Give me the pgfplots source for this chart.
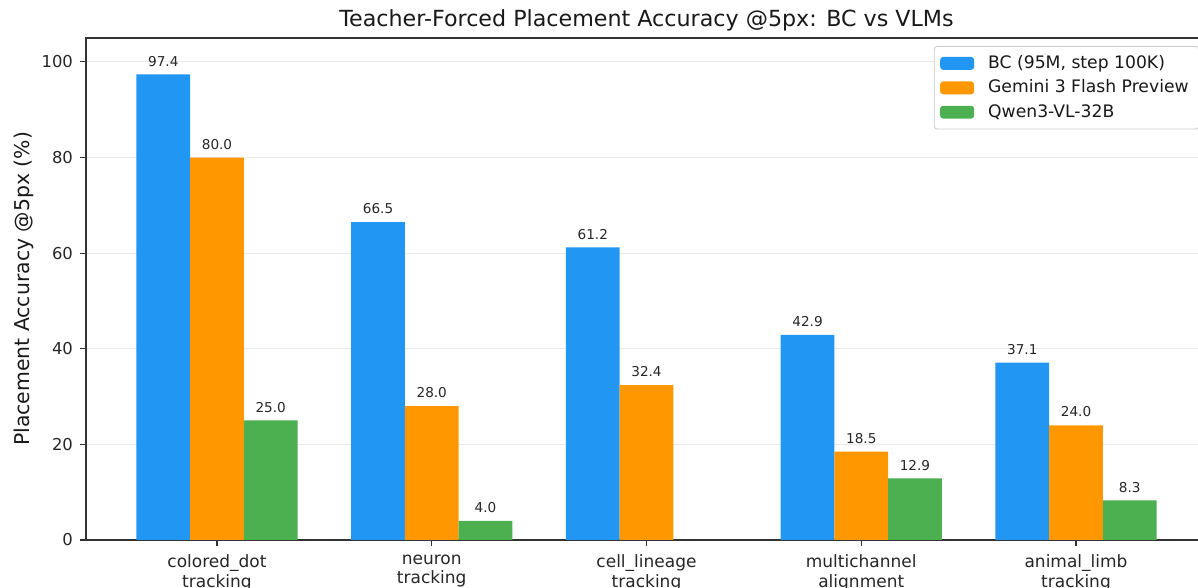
\documentclass[border=0pt]{standalone}
\usepackage{pgfplots}
\pgfplotsset{compat=1.18}
\usepackage{fontspec}
\setmainfont{DejaVu Sans}
\definecolor{cBC}{HTML}{2196F3}
\definecolor{cGem}{HTML}{FF9800}
\definecolor{cQwen}{HTML}{4CAF50}
\definecolor{spine}{HTML}{333333}
\begin{document}
\begin{tikzpicture}
\useasboundingbox (-43pt,-24pt) rectangle (556pt,270pt);
\clip (-43pt,-24pt) rectangle (556pt,270pt);
\begin{axis}[
  at={(0pt,0pt)}, anchor=south west,
  scale only axis, width=560.5pt, height=251pt,
  xmin=-0.61, xmax=4.61, ymin=0, ymax=105,
  ybar=0pt, bar width=0.25,
  axis line style={spine, line width=0.7pt},
  tick style={spine, line width=0.6pt},
  tick align=outside, major tick length=3pt,
  xtick pos=bottom, ytick pos=left,
  xtick={0,1,2,3,4},
  xticklabels={{colored\_dot\\tracking},{neuron\\tracking},{cell\_lineage\\tracking},{multichannel\\alignment},{animal\_limb\\tracking}},
  xticklabel style={align=center, font=\fontsize{8.5pt}{9.6pt}\selectfont, text=black!85, yshift=-1pt},
  ytick={0,20,40,60,80,100},
  yticklabel style={font=\fontsize{8.2pt}{10pt}\selectfont, text=black!85},
  /pgf/number format/assume math mode=true,
  ymajorgrids, xmajorgrids=false,
  grid style={black!8, line width=0.5pt},
  ylabel={Placement Accuracy @5px (\%)},
  ylabel style={at={(axis description cs:-0.0555,0.5)}, anchor=center, font=\fontsize{10.2pt}{12pt}\selectfont, text=black!90},
  title={Teacher-Forced Placement Accuracy @5px: BC vs VLMs},
  every axis title/.style={at={(axis description cs:0.5,1)}, anchor=base, yshift=5.5pt, font=\fontsize{11.1pt}{13pt}\selectfont, text=black!90},
  nodes near coords,
  nodes near coords style={font=\fontsize{6.8pt}{8pt}\selectfont, text=black!85, yshift=0.5pt, /pgf/number format/fixed, /pgf/number format/fixed zerofill, /pgf/number format/precision=1},
  legend style={at={(axis description cs:0.9929,0.9841)}, anchor=north east, draw=black!20, rounded corners=1.5pt, fill=white, font=\fontsize{8.6pt}{10pt}\selectfont, text=black!90, row sep=0.2pt, inner xsep=3pt, inner ysep=2.5pt},
  legend cell align=left,
  legend image code/.code={\fill[#1] (0pt,-3.2pt) rectangle (17pt,3.2pt); \path (22pt,0pt);},
]
\addplot[fill=cBC, draw=none] coordinates {(0,97.4) (1,66.5) (2,61.2) (3,42.9) (4,37.1)};
\addplot[fill=cGem, draw=none] coordinates {(0,80.0) (1,28.0) (2,32.4) (3,18.5) (4,24.0)};
\addplot[fill=cQwen, draw=none] coordinates {(0,25.0) (1,4.0) (3,12.9) (4,8.3)};
\legend{{BC (95M, step 100K)},{Gemini 3 Flash Preview},{Qwen3-VL-32B}}
\end{axis}
\end{tikzpicture}
\end{document}
